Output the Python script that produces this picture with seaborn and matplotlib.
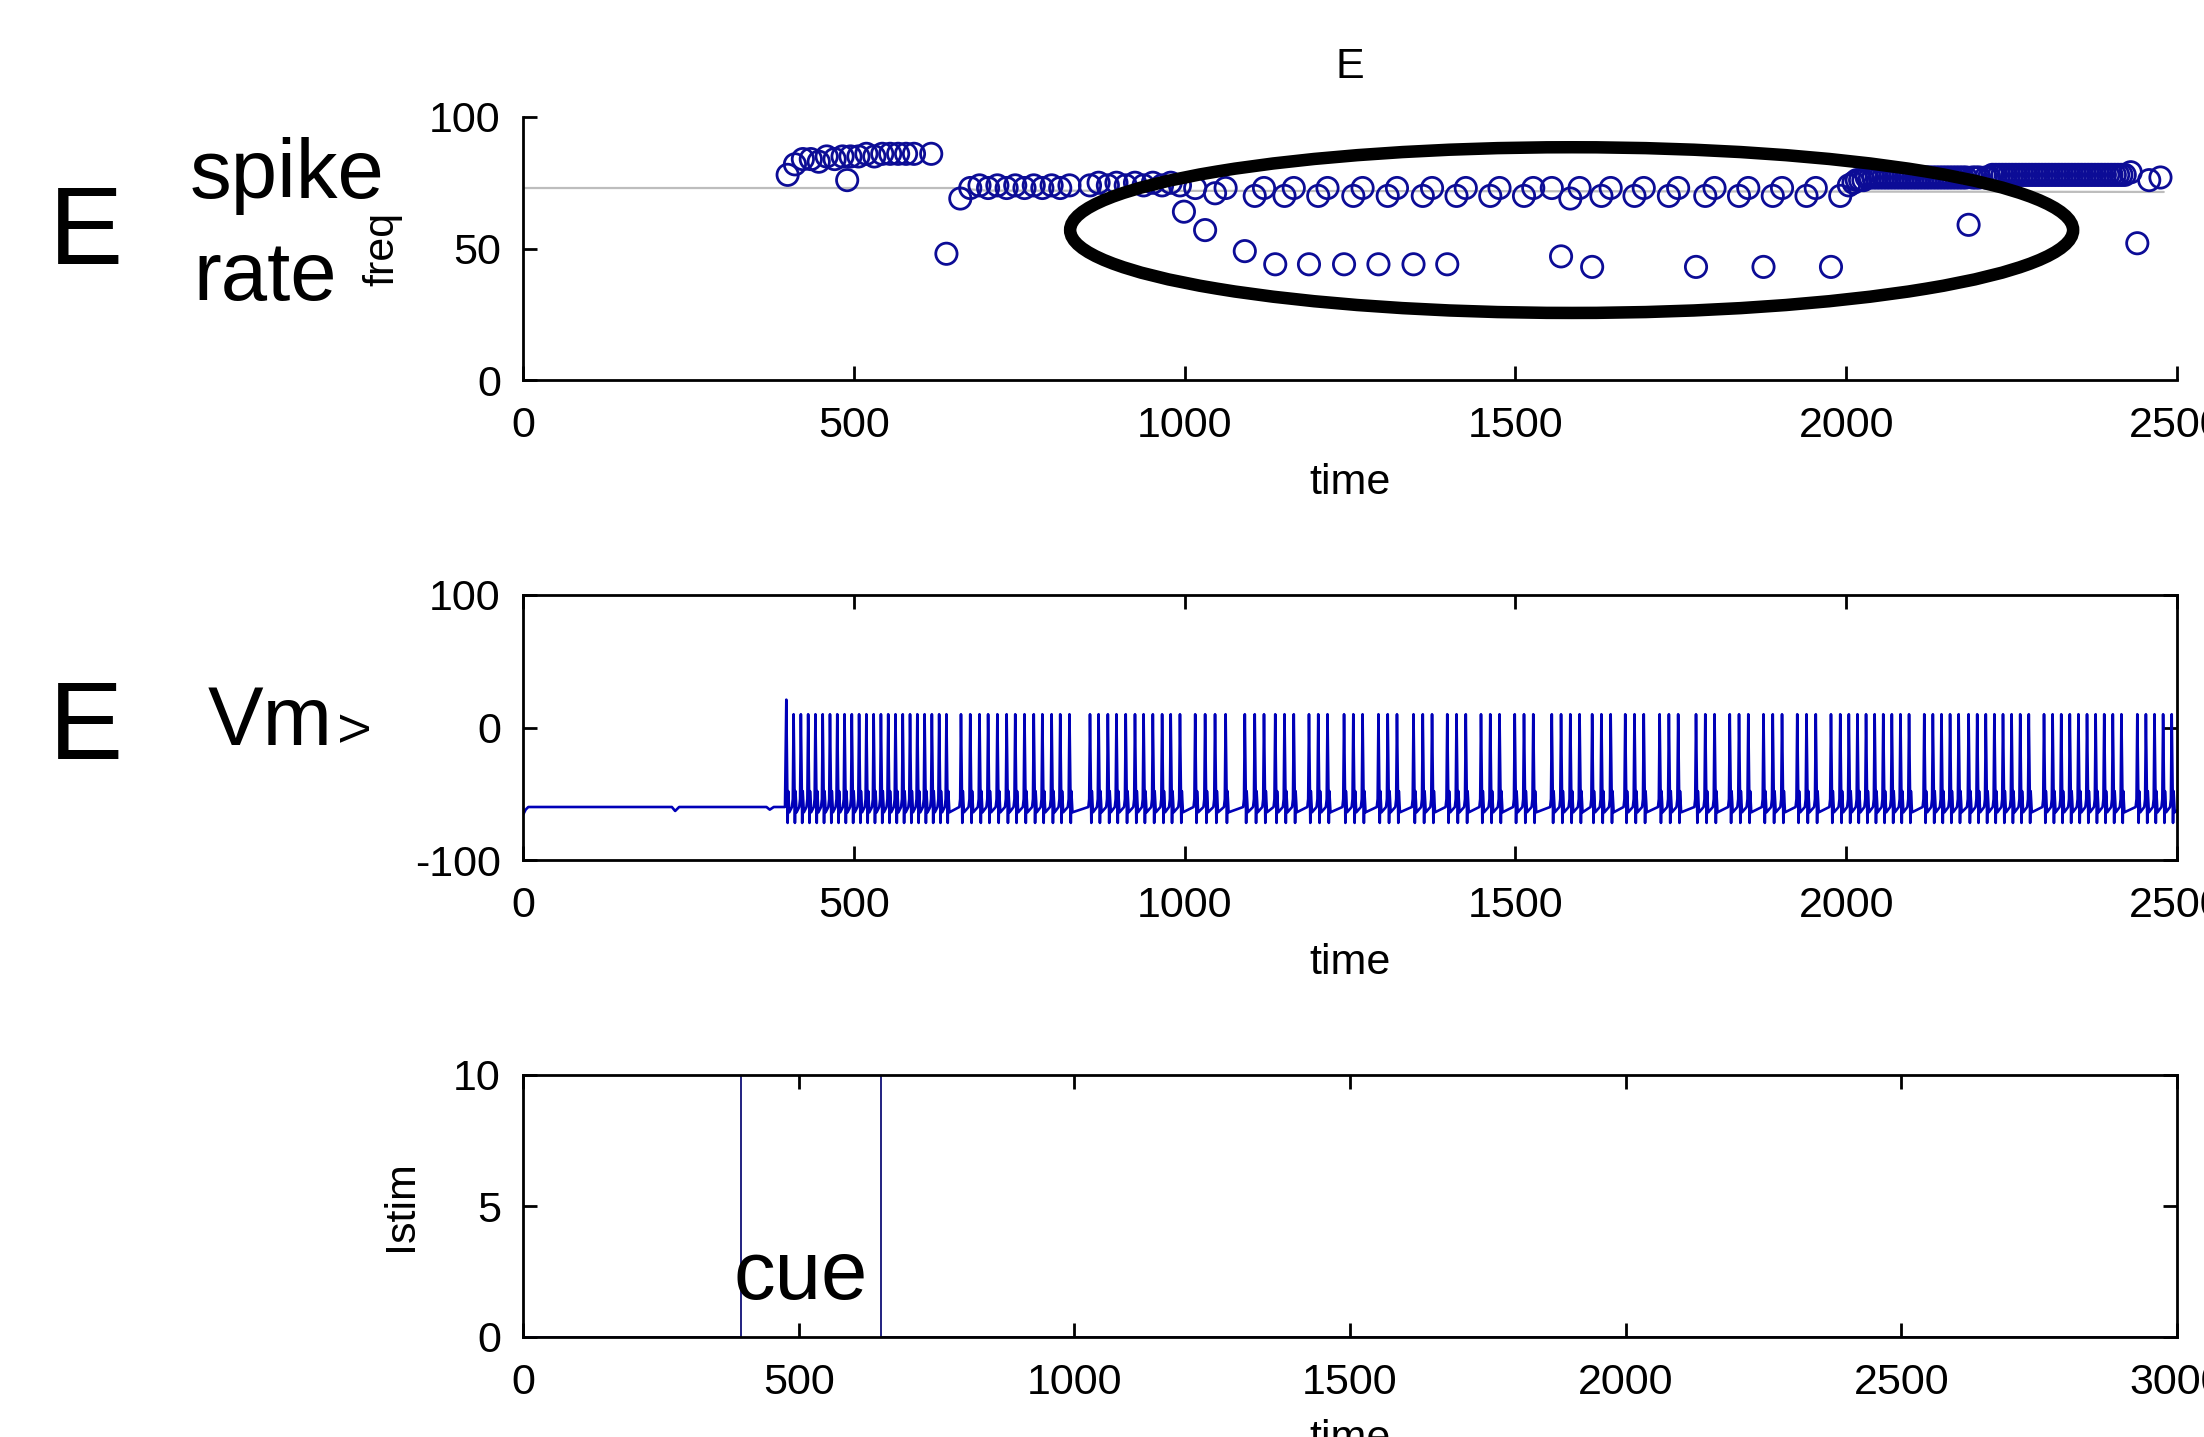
import matplotlib
matplotlib.use("Agg")
import matplotlib.pyplot as plt
import seaborn as sns
from matplotlib.patches import Ellipse

# ---------------- data ----------------
# spike-rate panel (time in ms, frequency in Hz)
freq_time = [400, 411, 423, 435, 447, 459, 471, 483, 490, 495, 507, 519, 531, 543, 555, 567, 579, 591, 617, 640, 661,
             676, 690, 703, 717, 731, 744, 758, 772, 785, 799, 812, 826,
             857, 870, 884, 897, 911, 925, 938, 952, 966, 979, 993,
             999, 1016, 1031, 1046, 1062, 1091, 1106, 1120,
             1137, 1151, 1165, 1188, 1202, 1216, 1241, 1255, 1269, 1293, 1307, 1321, 1346, 1360, 1374, 1397, 1411, 1425,
             1462, 1476, 1513, 1527, 1555, 1569, 1583, 1597, 1616, 1630, 1644, 1680, 1694, 1732, 1746,
             1773, 1787, 1801, 1838, 1852, 1875, 1889, 1903, 1940, 1954, 1977, 1991, 2004,
             2011, 2016, 2021, 2026, 2031, 2036, 2041, 2046, 2051, 2056, 2061, 2066, 2071, 2076, 2081, 2086,
             2091, 2096, 2101, 2106, 2111, 2116, 2121, 2126, 2131, 2136, 2141, 2146, 2151, 2156, 2161, 2166,
             2171, 2176, 2181, 2185, 2191, 2196, 2201,
             2211, 2216, 2221, 2226, 2231, 2236, 2241, 2246, 2251, 2256, 2261, 2266, 2271, 2276, 2281, 2286,
             2291, 2296, 2301, 2306, 2311, 2316, 2321, 2326, 2331, 2336, 2341, 2346, 2351, 2356, 2361, 2366,
             2371, 2376, 2381, 2386, 2391, 2396, 2401, 2406, 2411, 2416, 2421,
             2430, 2440, 2458, 2475]
freq_hz = [78, 82, 84, 84, 83, 85, 84, 85, 76, 85, 85, 86, 85, 86, 86, 86, 86, 86, 86, 48, 69,
           73, 74, 73, 74, 73, 74, 73, 74, 73, 74, 73, 74,
           74, 75, 74, 75, 74, 75, 74, 75, 74, 75, 74,
           64, 73, 57, 71, 73, 49, 70, 73,
           44, 70, 73, 44, 70, 73, 44, 70, 73, 44, 70, 73, 44, 70, 73, 44, 70, 73,
           70, 73, 70, 73, 73, 47, 69, 73, 43, 70, 73, 70, 73, 70, 73,
           43, 70, 73, 70, 73, 43, 70, 73, 70, 73, 43, 70, 74,
           75, 76, 76, 76, 77, 77, 77, 77, 77, 77, 77, 77, 77, 77, 77, 77,
           77, 77, 77, 77, 77, 77, 77, 77, 77, 77, 77, 77, 77, 77, 77, 77,
           77, 77, 77, 59, 77, 77, 77,
           77, 77, 78, 78, 78, 78, 78, 78, 78, 78, 78, 78, 78, 78, 78, 78,
           78, 78, 78, 78, 78, 78, 78, 78, 78, 78, 78, 78, 78, 78, 78, 78,
           78, 78, 78, 78, 78, 78, 78, 78, 78, 78, 78,
           79, 52, 76, 77]
mean_time = [0, 650, 700, 2480]
mean_hz = [73, 73, 72, 71.5]

# membrane potential panel
vm_rest_time = [0, 4, 8, 225, 230, 236, 368, 373, 379, 396]
vm_rest_mv = [-66, -62, -60, -60, -63, -60, -60, -62, -60, -60]
vm_spike_time = [398, 409, 420, 431, 442, 453, 464, 475, 486, 497, 508, 519, 530, 541, 552, 563, 574, 585, 596,
                 607, 618, 629, 640,
                 662, 676, 690, 703, 717, 731, 744, 758, 772, 785, 799, 812, 826,
                 857, 870, 884, 897, 911, 925, 938, 952, 966, 979, 993,
                 1016, 1031, 1046, 1062, 1091, 1106, 1120,
                 1137, 1151, 1165, 1188, 1202, 1216, 1241, 1255, 1269, 1293, 1307, 1321, 1346, 1360, 1374,
                 1397, 1411, 1425, 1448, 1462, 1476, 1499, 1513, 1527, 1555, 1569, 1583, 1597, 1616, 1630, 1644,
                 1666, 1680, 1694, 1718, 1732, 1746, 1773, 1787, 1801, 1824, 1838, 1852, 1875, 1889, 1903,
                 1926, 1940, 1954, 1977, 1991, 2004,
                 2017, 2030, 2043, 2056, 2069, 2082, 2095, 2118, 2131, 2144, 2157, 2170, 2185, 2198, 2211,
                 2224, 2237, 2250, 2263, 2276, 2299, 2312, 2325, 2338, 2351, 2364, 2377, 2390, 2403, 2416,
                 2440, 2453, 2466, 2479, 2492]
vm_first_peak = 21
vm_peak = 10
vm_trough = -72
vm_ahp = -48
vm_mid = -64
vm_late = -60
vm_thresh = -54

# stimulus panel
istim_time = [0, 395, 395, 650, 650, 3000]
istim_val = [0, 0, 10, 10, 0, 0]

# ---------------- style ----------------
sns.set_style("ticks")
plt.rcParams['font.family'] = ['Liberation Sans', 'DejaVu Sans']
plt.rcParams.update({
    'axes.linewidth': 2.0,
    'axes.unicode_minus': False,
    'text.color': 'black',
    'axes.labelcolor': 'black',
    'axes.edgecolor': 'black',
    'xtick.color': 'black',
    'ytick.color': 'black',
})

W_PX, H_PX = 2204, 1437
fig = plt.figure(figsize=(W_PX / 100, H_PX / 100), dpi=100)
L = 523 / W_PX
W = (2177 - 523) / W_PX


def box(top, bottom):
    return [L, 1 - bottom / H_PX, W, (bottom - top) / H_PX]


ax1 = fig.add_axes(box(117, 380))
ax2 = fig.add_axes(box(595, 860))
ax3 = fig.add_axes(box(1075, 1337))

tick_fs = 31
lab_fs = 31
navy = '#0c0c96'

# ---- top: spike rate ----
sns.lineplot(x=mean_time, y=mean_hz, ax=ax1, color='#bdbdbd', linewidth=1.6, estimator=None, sort=False, zorder=1)
sns.scatterplot(x=freq_time, y=freq_hz, ax=ax1, marker='o', s=235, facecolors='none',
                edgecolors=navy, linewidth=2.0, zorder=2)
ax1.set_xlim(0, 2500)
ax1.set_ylim(0, 100)
ax1.set_xticks([0, 500, 1000, 1500, 2000, 2500])
ax1.set_yticks([0, 50, 100])
ax1.spines['top'].set_visible(False)
ax1.spines['right'].set_visible(False)
ax1.set_title('E', fontsize=lab_fs, y=1.19, va='center', pad=0)
ax1.add_patch(Ellipse((1585, 57), 1516, 63, fill=False, linewidth=9, edgecolor='black', clip_on=False, zorder=5))

# ---- middle: Vm ----
vt = list(vm_rest_time)
vv = list(vm_rest_mv)
for i, t in enumerate(vm_spike_time):
    nxt = vm_spike_time[i + 1] if i + 1 < len(vm_spike_time) else 2510
    pk = vm_first_peak if i == 0 else vm_peak
    vt += [t, t + 2.0, t + 2.8, t + 4.5, nxt - 2.5, nxt - 1.2]
    vv += [pk, vm_trough, vm_ahp, vm_mid, vm_late, vm_thresh]
sns.lineplot(x=vt, y=vv, ax=ax2, color='#0000b8', linewidth=1.9, estimator=None, sort=False)
ax2.set_xlim(0, 2500)
ax2.set_ylim(-100, 100)
ax2.set_xticks([0, 500, 1000, 1500, 2000, 2500])
ax2.set_yticks([-100, 0, 100])

# ---- bottom: Istim ----
sns.lineplot(x=istim_time, y=istim_val, ax=ax3, color='#202080', linewidth=1.4, estimator=None, sort=False)
ax3.set_xlim(0, 3000)
ax3.set_ylim(0, 10)
ax3.set_xticks([0, 500, 1000, 1500, 2000, 2500, 3000])
ax3.set_yticks([0, 5, 10])
ax3.text(382, 2.3, 'cue', fontsize=60, ha='left', va='center', color='black')

for ax, ylab, yx in [(ax1, 'freq', -0.085), (ax2, 'V', -0.099), (ax3, 'Istim', -0.074)]:
    full_box = ax is not ax1
    ax.tick_params(direction='in', length=10, width=2.0, labelsize=tick_fs,
                   top=full_box, right=full_box, pad=16)
    ax.tick_params(axis='x', pad=19)
    ax.set_xlabel('time', fontsize=lab_fs)
    ax.xaxis.set_label_coords(0.5, -0.39)
    ax.xaxis.label.set_verticalalignment('center')
    ax.set_ylabel(ylab, fontsize=lab_fs)
    ax.yaxis.set_label_coords(yx, 0.5)
    ax.yaxis.label.set_verticalalignment('center')

# ---- annotation labels ----
fig.text(49 / W_PX, 1 - 264 / H_PX, 'E', fontsize=80, ha='left', va='baseline')
fig.text(49 / W_PX, 1 - 759 / H_PX, 'E', fontsize=80, ha='left', va='baseline')
fig.text(190 / W_PX, 1 - 198 / H_PX, 'spike', fontsize=60, ha='left', va='baseline')
fig.text(193 / W_PX, 1 - 300 / H_PX, 'rate', fontsize=60, ha='left', va='baseline')
fig.text(208 / W_PX, 1 - 745 / H_PX, 'Vm', fontsize=60, ha='left', va='baseline')

fig.savefig('out.png', dpi=100)
